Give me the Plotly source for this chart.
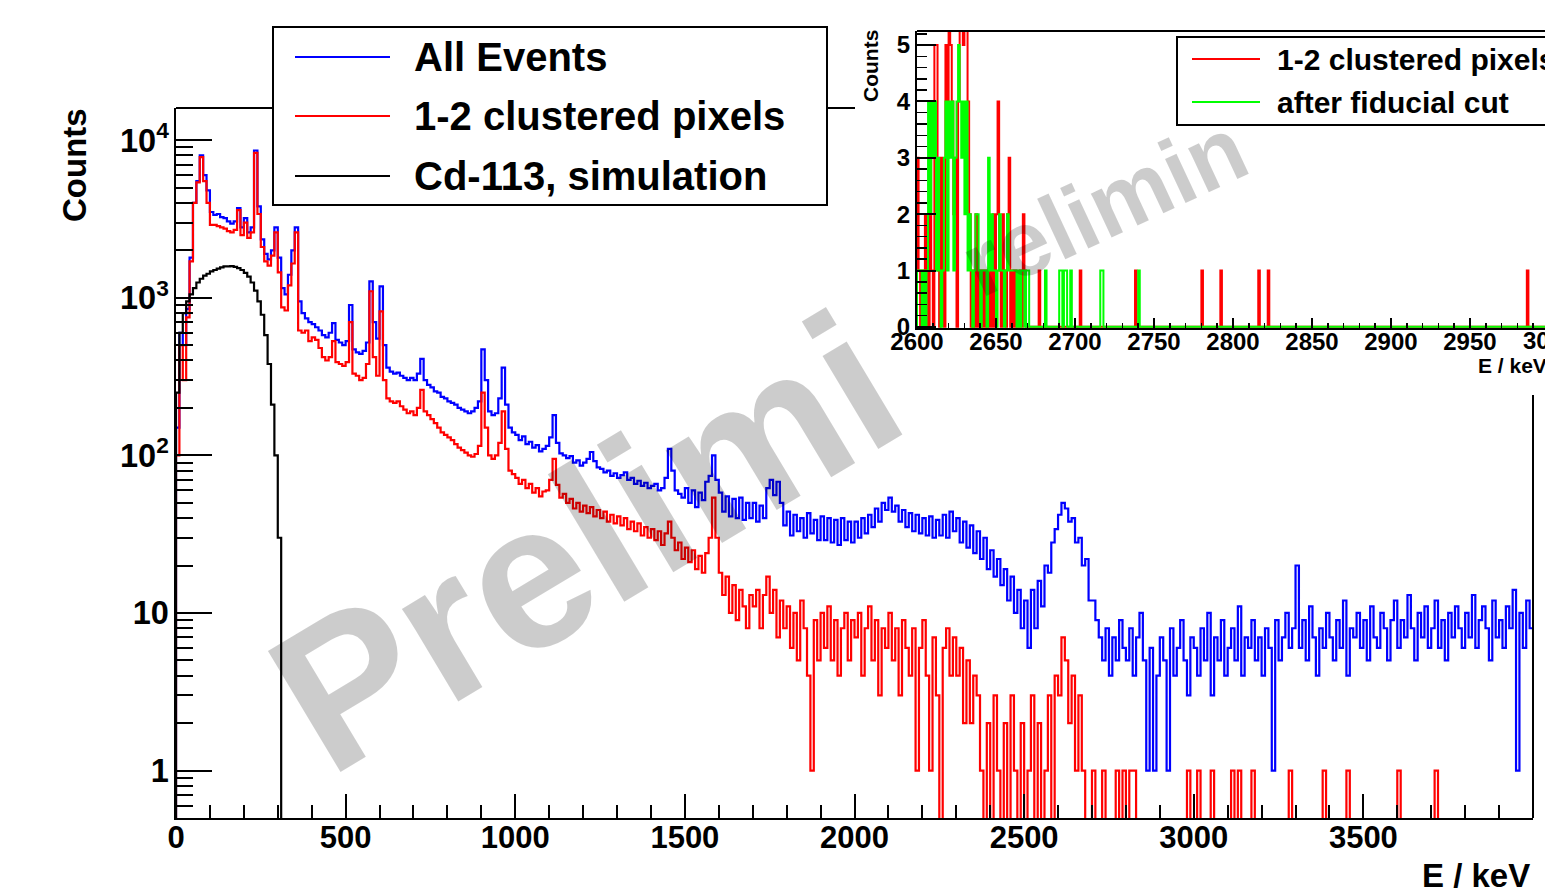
import numpy as np
import plotly.graph_objects as go

# ---------------- data ----------------
BIN_KEV = 10  # main spectra, bins of 10 keV starting at 0 keV

blue_counts = [
    150, 600, 500, 850, 1800, 4000, 5500, 8000, 6000, 4800,
    3500, 3350, 3400, 3250, 3200, 3050, 2950, 3050, 3700, 2800,
    3200, 2600, 2800, 8600, 3800, 2350, 1900, 1750, 2000, 2800,
    1800, 1150, 1050, 1400, 2000, 2800, 950, 800, 740, 700,
    680, 650, 620, 580, 560, 600, 690, 540, 520, 500,
    530, 900, 470, 450, 440, 460, 520, 1270, 700, 550,
    1180, 500, 360, 340, 330, 335, 320, 310, 300, 310,
    300, 330, 410, 300, 280, 270, 255, 250, 235, 230,
    220, 215, 210, 200, 195, 190, 185, 190, 200, 220,
    470, 300, 190, 180, 185, 230, 360, 210, 150, 140,
    135, 125, 132, 118, 122, 112, 116, 106, 110, 115,
    130, 180, 120, 103, 100, 96, 99, 90, 93, 86,
    90, 95, 105, 92, 84, 82, 78, 80, 74, 77,
    72, 75, 78, 70, 72, 66, 69, 64, 67, 62,
    64, 66, 60, 62, 72, 110, 80, 60, 57, 54,
    62, 50, 60, 47, 58, 52, 68, 74, 100, 70,
    58, 44, 55, 41, 53, 40, 54, 39, 50, 40,
    50, 38, 48, 40, 62, 70, 56, 68, 50, 36,
    44, 31, 42, 33, 40, 30, 43, 32, 39, 29,
    41, 29, 40, 28, 39, 27, 40, 29, 38, 28,
    38, 30, 40, 32, 42, 35, 46, 38, 50, 45,
    54, 44, 48, 38, 45, 35, 43, 33, 42, 32,
    40, 31, 41, 30, 39, 31, 42, 30, 44, 33,
    40, 28, 38, 26, 36, 24, 33, 22, 30, 19,
    25, 17, 22, 15, 19, 12, 17, 10, 14, 8,
    12, 6, 14, 8, 16, 11, 20, 18, 28, 34,
    42, 50, 46, 38, 40, 28, 30, 20, 22, 12,
    12, 9, 7, 5, 8, 4, 7, 5, 9, 6,
    5, 8, 4, 7, 10, 5, 1, 6, 1, 4,
    7, 5, 1, 8, 4, 6, 9, 5, 3, 7,
    6, 4, 8, 5, 10, 3, 7, 5, 9, 4,
    6, 8, 5, 11, 4, 7, 6, 9, 5, 7,
    4, 8, 6, 1, 9, 5, 7, 10, 6, 8,
    20, 6, 9, 5, 11, 7, 4, 8, 6, 10,
    7, 5, 9, 6, 12, 4, 8, 7, 10, 6,
    9, 5, 11, 7, 6, 10, 8, 5, 9, 12,
    6, 9, 7, 13, 8, 5, 10, 7, 11, 6,
    8, 12, 6, 9, 5, 10, 7, 11, 8, 6,
    10, 7, 13, 6, 9, 11, 8, 5, 12, 7,
    9, 6, 11, 8, 14, 1, 10, 6, 12, 8,
]

red_counts = [
    100, 500, 300, 750, 1700, 4000, 5400, 7800, 5500, 4000,
    2900, 2900, 2850, 2800, 2750, 2650, 2600, 2700, 3600, 2500,
    3000, 2400, 2600, 8300, 3400, 2100, 1700, 1600, 1850, 2600,
    1450, 870, 830, 1200, 1650, 2600, 620, 600, 620, 530,
    560, 540, 480, 420, 400, 420, 530, 390, 380, 370,
    390, 700, 330, 320, 300, 310, 380, 1100, 420, 320,
    820, 300, 230, 220, 215, 220, 205, 195, 185, 190,
    180, 200, 260, 190, 180, 170, 160, 150, 140, 135,
    130, 125, 118, 112, 108, 104, 100, 98, 102, 115,
    250, 150, 100, 95, 100, 120, 190, 110, 80, 76,
    72, 66, 70, 62, 66, 58, 62, 55, 59, 60,
    70, 95, 65, 54, 57, 50, 53, 46, 50, 44,
    48, 43, 47, 41, 45, 40, 44, 38, 42, 37,
    41, 36, 40, 34, 38, 33, 37, 31, 35, 30,
    34, 29, 33, 27, 32, 38, 30, 25, 28, 22,
    26, 21, 25, 19, 23, 18, 24, 30, 54, 30,
    18, 13, 17, 10, 15, 9, 14, 11, 8, 13,
    11, 14, 8, 13, 17, 10, 14, 7, 12, 8,
    11, 6, 10, 5, 12, 8, 4, 1, 9, 5,
    10, 6, 11, 5, 9, 4, 8, 10, 5, 9,
    7, 10, 4, 8, 11, 5, 9, 3, 8, 6,
    10, 5, 8, 3, 9, 6, 4, 8, 1, 6,
    9, 4, 1, 7, 3, 0, 6, 8, 4, 7,
    4, 6, 2, 5, 2, 4, 3, 1, 0, 2,
    0, 3, 1, 0, 2, 0, 3, 1, 0, 2,
    0, 1, 3, 0, 2, 0, 1, 3, 0, 4,
    3, 7, 5, 2, 4, 1, 3, 1, 0, 0,
    1, 0, 0, 1, 0, 0, 0, 1, 0, 1,
    0, 1, 1, 0, 0, 0, 0, 0, 0, 0,
    0, 0, 0, 0, 0, 0, 0, 0, 1, 0,
    0, 1, 0, 0, 0, 1, 0, 0, 0, 0,
    0, 1, 0, 1, 0, 0, 0, 1, 0, 0,
    0, 0, 0, 0, 0, 0, 0, 0, 1, 0,
    0, 0, 0, 0, 0, 0, 0, 0, 1, 0,
    0, 0, 0, 0, 0, 1, 0, 0, 0, 0,
    0, 0, 0, 0, 0, 0, 0, 0, 0, 0,
    1, 0, 0, 0, 0, 0, 0, 0, 0, 0,
    0, 1, 0, 0, 0, 0, 0, 0, 0, 0,
    0, 0, 0, 0, 0, 0, 0, 0, 0, 0,
    0, 0, 0, 0, 0, 0, 0, 0, 0, 0,
]

sim_counts = [
    250, 600, 800, 950, 1050, 1150, 1250, 1320, 1380, 1420,
    1470, 1500, 1530, 1560, 1580, 1580, 1590, 1570, 1540, 1500,
    1440, 1360, 1250, 1110, 950, 780, 580, 380, 210, 100,
    30, 0,
]

# inset: 1 keV bins, only the non-empty bins are listed
inset_red_energy = [
    2600, 2601, 2603, 2605, 2606, 2608, 2609, 2611, 2612, 2613, 2615, 2616,
    2618, 2619, 2620, 2621, 2622, 2623, 2624, 2626, 2627, 2628, 2629, 2630,
    2631, 2632, 2633, 2635, 2637, 2639, 2641, 2643, 2646, 2648, 2650, 2651,
    2652, 2654, 2655, 2657, 2658, 2660, 2662, 2665, 2667, 2668, 2677, 2703,
    2738, 2780, 2792, 2816, 2822, 2986,
]
inset_red_counts = [
    3, 1, 1, 2, 1, 4, 1, 5, 5, 1, 3, 1,
    5, 3, 6, 5, 4, 2, 3, 4, 7, 6, 5, 7,
    6, 4, 2, 1, 2, 1, 1, 1, 1, 2, 2, 4,
    1, 2, 1, 2, 3, 1, 1, 1, 2, 1, 1, 1,
    1, 1, 1, 1, 1, 1,
]
inset_green_energy = [
    2600, 2601, 2602, 2604, 2606, 2607, 2608, 2609, 2610, 2611, 2612, 2613,
    2614, 2616, 2617, 2618, 2619, 2620, 2621, 2622, 2623, 2624, 2625, 2626,
    2627, 2628, 2629, 2630, 2631, 2632, 2633, 2634, 2636, 2637, 2638, 2639,
    2641, 2642, 2643, 2645, 2646, 2647, 2648, 2649, 2651, 2652, 2653, 2654,
    2656, 2657, 2658, 2659, 2660, 2661, 2662, 2664, 2666, 2667, 2669, 2670,
    2681, 2690, 2691, 2693, 2694, 2697, 2716, 2717, 2740,
]
inset_green_counts = [
    1, 1, 1, 1, 1, 4, 2, 4, 3, 4, 1, 3,
    1, 1, 3, 4, 1, 4, 3, 4, 1, 3, 4, 5,
    4, 3, 4, 2, 4, 1, 2, 1, 1, 2, 2, 1,
    1, 1, 1, 3, 1, 2, 1, 1, 1, 2, 1, 1,
    1, 2, 1, 1, 1, 1, 1, 1, 1, 1, 1, 1,
    1, 1, 1, 1, 1, 1, 1, 1, 1,
]
INSET_START, INSET_STOP = 2600, 3000

main_legend_labels = ["All Events", "1-2 clustered pixels", "Cd-113, simulation"]
inset_legend_labels = ["1-2 clustered pixels", "after fiducial cut"]
watermark_text = "Preliminary"

# ---------------- helpers ----------------
W, H = 1545, 888
FONT = "Liberation Sans, Arial, Helvetica, sans-serif"
FLOOR = 0.1  # empty bins are drawn at the bottom of the log axis
WATERMARK = "rgba(0,0,0,0.2)"  # light grey that lets the spectra show through


def px(x):
    return x / W


def py(y):
    return 1 - y / H


def step_xy(values, start, width, floor):
    v = np.asarray(values, float)
    v = np.where(v > 0, v, floor)
    edges = start + width * np.arange(len(v) + 1)
    x = np.concatenate([[edges[0]], edges])
    y = np.concatenate([[floor], v, [v[-1]]])
    return x, y


def dense_inset(energies, counts):
    arr = np.zeros(INSET_STOP - INSET_START)
    arr[np.asarray(energies) - INSET_START] = counts
    return arr


fig = go.Figure()

bx, by = step_xy(blue_counts, 0, BIN_KEV, FLOOR)
rx, ry = step_xy(red_counts, 0, BIN_KEV, FLOOR)
sx, sy = step_xy(sim_counts, 0, BIN_KEV, FLOOR)

fig.add_trace(go.Scatter(x=bx, y=by, mode="lines", line=dict(color="#0000ff", width=2.2, shape="hv"),
                         name=main_legend_labels[0], xaxis="x", yaxis="y"))
fig.add_trace(go.Scatter(x=rx, y=ry, mode="lines", line=dict(color="#ff0000", width=2.2, shape="hv"),
                         name=main_legend_labels[1], xaxis="x", yaxis="y"))
fig.add_trace(go.Scatter(x=sx, y=sy, mode="lines", line=dict(color="#000000", width=2.2, shape="hv"),
                         name=main_legend_labels[2], xaxis="x", yaxis="y"))

ir = dense_inset(inset_red_energy, inset_red_counts)
ig = dense_inset(inset_green_energy, inset_green_counts)
irx = np.concatenate([[INSET_START], INSET_START + np.arange(len(ir) + 1)])
iry = np.concatenate([[0], ir, [ir[-1]]])
igy = np.concatenate([[0], ig, [ig[-1]]])
fig.add_trace(go.Scatter(x=irx, y=iry, mode="lines", line=dict(color="#ff0000", width=2, shape="hv"),
                         name=inset_legend_labels[0], xaxis="x2", yaxis="y2"))
fig.add_trace(go.Scatter(x=irx, y=igy, mode="lines", line=dict(color="#00ff00", width=2, shape="hv"),
                         name=inset_legend_labels[1], xaxis="x2", yaxis="y2"))

tick_common = dict(ticks="inside", tickcolor="black", tickwidth=2, showgrid=False, zeroline=False,
                   showline=True, linecolor="black", linewidth=2, automargin=False)

fig.update_layout(
    width=W, height=H, margin=dict(l=0, r=0, t=0, b=0),
    paper_bgcolor="white", plot_bgcolor="white", showlegend=False, hovermode=False,
    font=dict(family=FONT, color="black"),
    xaxis=dict(domain=[px(176), px(1533)], range=[0, 4000], anchor="y",
               dtick=500, tick0=0, ticklen=24, ticklabelstandoff=-9,
               minor=dict(ticks="inside", dtick=100, ticklen=13, tickwidth=2, tickcolor="black"),
               tickfont=dict(size=31, family=FONT, weight="bold"), **tick_common),
    yaxis=dict(domain=[py(818), py(108)], type="log", range=[np.log10(0.5), np.log10(1.6e4)], anchor="x",
               dtick=1, ticklen=36, exponentformat="power",
               minor=dict(ticks="inside", dtick="D1", ticklen=17, tickwidth=2, tickcolor="black"),
               tickfont=dict(size=26, family=FONT, weight="bold"), **tick_common),
    xaxis2=dict(domain=[px(917), 1.0], range=[INSET_START, 2997.5], anchor="y2",
                dtick=50, tick0=2600, ticklen=10, ticklabelstandoff=-9,
                minor=dict(ticks="inside", dtick=10, ticklen=5, tickwidth=1.5, tickcolor="black"),
                tickfont=dict(size=24, family=FONT, weight="bold"), **tick_common),
    yaxis2=dict(domain=[py(328), py(31)], range=[-0.02, 5.25], anchor="x2",
                dtick=1, ticklen=19,
                minor=dict(ticks="inside", dtick=0.2, ticklen=10, tickwidth=1.5, tickcolor="black"),
                tickfont=dict(size=24, family=FONT, weight="bold"), **tick_common),
)

shapes = []
# main frame pieces not drawn by the axes
shapes.append(dict(type="line", xref="paper", yref="paper", x0=px(176), x1=px(855), y0=py(108), y1=py(108),
                   line=dict(color="black", width=2)))
shapes.append(dict(type="line", xref="paper", yref="paper", x0=px(1533), x1=px(1533), y0=py(395), y1=py(818),
                   line=dict(color="black", width=2)))
# inset frame top
shapes.append(dict(type="line", xref="paper", yref="paper", x0=px(917), x1=1.0, y0=py(31), y1=py(31),
                   line=dict(color="black", width=2)))
# main legend box
shapes.append(dict(type="rect", xref="paper", yref="paper", x0=px(273), x1=px(827), y0=py(205), y1=py(27),
                   line=dict(color="black", width=2), fillcolor="white"))
main_colors = ["#0000ff", "#ff0000", "#000000"]
main_rows = [57, 116, 176]
for c, yy in zip(main_colors, main_rows):
    shapes.append(dict(type="line", xref="paper", yref="paper", x0=px(295), x1=px(390), y0=py(yy), y1=py(yy),
                       line=dict(color=c, width=2)))
# inset legend box
shapes.append(dict(type="rect", xref="paper", yref="paper", x0=px(1177), x1=px(1580), y0=py(125), y1=py(37),
                   line=dict(color="black", width=2), fillcolor="white"))
inset_colors = ["#ff0000", "#00ff00"]
inset_rows = [59, 102]
for c, yy in zip(inset_colors, inset_rows):
    shapes.append(dict(type="line", xref="paper", yref="paper", x0=px(1192), x1=px(1260), y0=py(yy), y1=py(yy),
                       line=dict(color=c, width=2)))
fig.update_layout(shapes=shapes)

ann = []
hid = 'style="color:rgba(0,0,0,0)"'
# watermarks (hidden parts keep the layout of the full word; they lie under other pads/boxes)
ann.append(dict(xref="paper", yref="paper", x=px(770), y=py(430), xanchor="center", yanchor="middle",
                showarrow=False, textangle=-31,
                text=watermark_text[:7] + "<span " + hid + ">" + watermark_text[7:] + "</span>",
                font=dict(family=FONT, size=205, color=WATERMARK, weight="bold")))
ann.append(dict(xref="paper", yref="paper", x=px(1138), y=py(190), xanchor="center", yanchor="middle",
                showarrow=False, textangle=-25,
                text="<span " + hid + ">" + watermark_text[0] + "</span>" + watermark_text[1:8]
                     + "<span " + hid + ">" + watermark_text[8:] + "</span>",
                font=dict(family=FONT, size=92, color=WATERMARK, weight="bold")))
# legend texts
for lab, yy in zip(main_legend_labels, main_rows):
    ann.append(dict(xref="paper", yref="paper", x=px(412), y=py(yy), xanchor="left", yanchor="middle",
                    showarrow=False, text=lab, font=dict(family=FONT, size=40, weight="bold")))
for lab, yy in zip(inset_legend_labels, inset_rows):
    ann.append(dict(xref="paper", yref="paper", x=px(1275), y=py(yy), xanchor="left", yanchor="middle",
                    showarrow=False, text=lab, font=dict(family=FONT, size=30, weight="bold")))
# axis titles
ann.append(dict(xref="paper", yref="paper", x=px(1532), y=py(875), xanchor="right", yanchor="middle",
                showarrow=False, text="E / keV", font=dict(family=FONT, size=33, weight="bold")))
ann.append(dict(xref="paper", yref="paper", x=px(75), y=py(165), xanchor="center", yanchor="middle",
                textangle=-90, showarrow=False, text="Counts", font=dict(family=FONT, size=33, weight="bold")))
ann.append(dict(xref="paper", yref="paper", x=px(1549), y=py(365), xanchor="right", yanchor="middle",
                showarrow=False, text="E / keV", font=dict(family=FONT, size=21, weight="bold")))
ann.append(dict(xref="paper", yref="paper", x=px(870), y=py(66), xanchor="center", yanchor="middle",
                textangle=-90, showarrow=False, text="Counts", font=dict(family=FONT, size=21, weight="bold")))
ann.append(dict(xref="paper", yref="paper", x=px(1549), y=py(340), xanchor="center", yanchor="middle",
                showarrow=False, text="3000", font=dict(family=FONT, size=24, weight="bold")))
fig.update_layout(annotations=ann)

fig.write_html("out.html", config={"displayModeBar": False, "staticPlot": True},
               post_script="document.body.style.margin='0px';document.body.style.overflow='hidden';")
